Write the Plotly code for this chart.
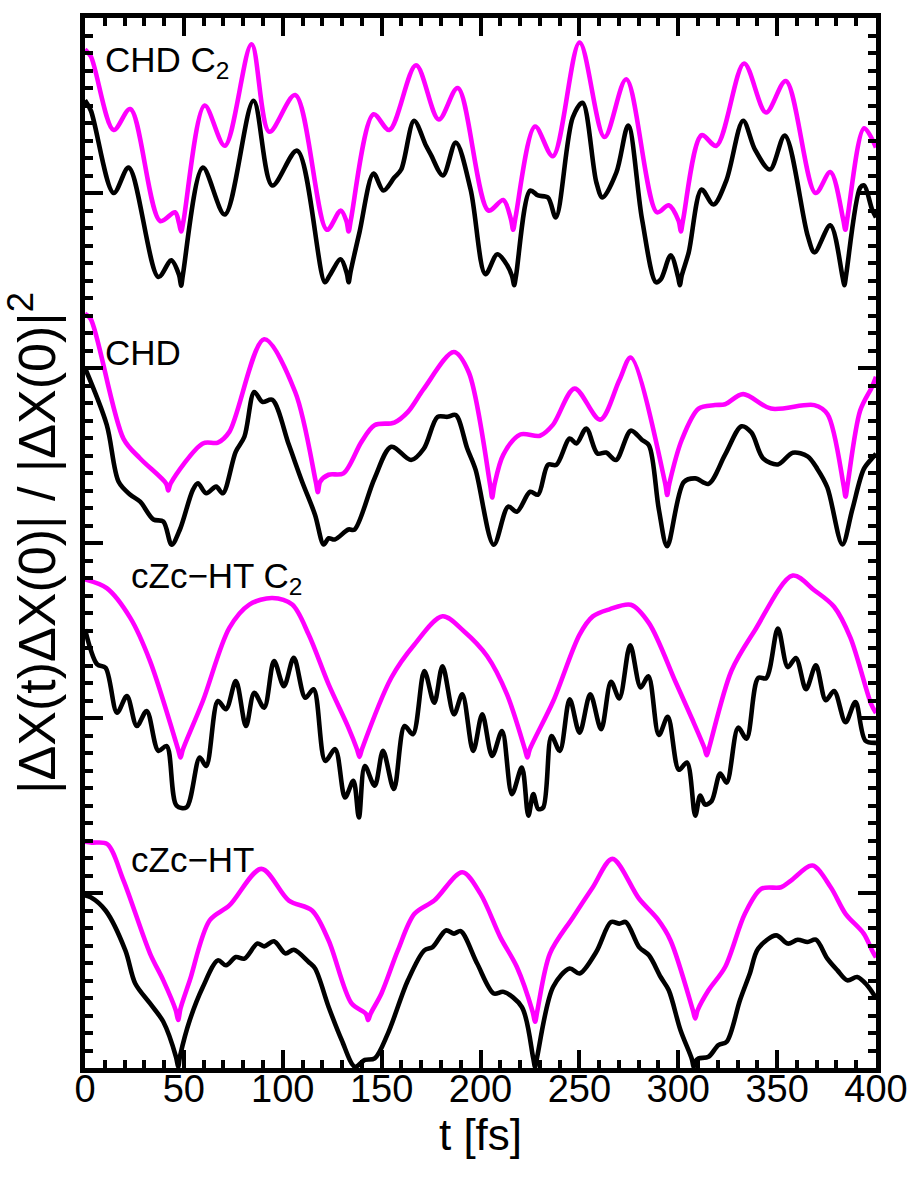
import plotly.graph_objects as go

# ---------------- data ----------------
# Panel 1: CHD C2
chd_c2_mag_t = [0, 3, 14.5, 22.9, 38, 45.5, 47.5, 48.6, 49.8, 60.5, 70.7, 84.2, 93.2, 106.3, 122.3, 129.3,
                132.2, 133.3, 134.5, 145.9, 153.9, 167.4, 178.9, 188.5, 204.0, 211.5, 215.4, 216.5, 217.7,
                227.6, 236.6, 250.1, 262.7, 273.7, 289.2, 295.2, 300.2, 301.3, 302.5, 311.8, 319.3, 333.3,
                344.4, 354.4, 369.4, 376.9, 383.4, 384.5, 385.7, 394.0, 400]
chd_c2_mag_y = [5.82, 5.78, 5.36, 5.48, 4.84, 4.89, 4.83, 4.78, 4.84, 5.50, 5.27, 5.85, 5.35, 5.56, 4.79, 4.90,
                4.84, 4.78, 4.85, 5.45, 5.36, 5.73, 5.42, 5.60, 4.90, 4.96, 4.85, 4.79, 4.86,
                5.38, 5.21, 5.86, 5.32, 5.65, 4.89, 4.93, 4.84, 4.78, 4.85, 5.33, 5.27, 5.74,
                5.46, 5.64, 5.00, 5.12, 4.85, 4.79, 4.87, 5.37, 5.26]
chd_c2_blk_t = [0, 3, 14.5, 22.1, 37.1, 43.6, 47.6, 48.6, 49.6, 59.6, 70.7, 85.2, 94.7, 107.3, 121.3, 123.8,
                129.3, 132.4, 133.3, 134.3, 138.8, 145.9, 150.9, 156.4, 159.9, 166.4, 172.4, 174.9, 181.0,
                187.5, 195.0, 202.5, 208.5, 213.5, 216.1, 217.0, 218.0, 225.1, 229.1, 234.1, 238.1, 246.6,
                251.6, 258.6, 261.7, 268.7, 274.7, 281.7, 288.7, 291.2, 296.2, 299.9, 300.8, 301.8, 305.3,
                311.8, 317.8, 324.3, 332.8, 338.8, 346.4, 353.9, 365.4, 368.9, 376.9, 383.1, 384.0, 385.0,
                392.0, 394.0, 398.0, 400]
chd_c2_blk_y = [5.53, 5.47, 5.00, 5.145, 4.52, 4.615, 4.53, 4.47, 4.54, 5.145, 4.877, 5.527, 5.043, 5.242, 4.49, 4.53,
                4.621, 4.54, 4.49, 4.55, 4.775, 5.111, 5.014, 5.088, 5.134, 5.413, 5.271, 5.219, 5.10,
                5.288, 5.02, 4.536, 4.65, 4.587, 4.52, 4.473, 4.53, 5.014, 4.986, 4.974, 4.86, 5.43,
                5.516, 5.06, 4.974, 5.117, 5.385, 4.849, 4.49, 4.507, 4.644, 4.52, 4.473, 4.53, 4.661,
                5.02, 4.934, 5.071, 5.413, 5.248, 5.134, 5.328, 4.758, 4.661, 4.815, 4.52, 4.473, 4.54,
                5.031, 5.043, 4.906, 4.86]

# Panel 2: CHD
chd_mag_t = [0, 2.9, 19.5, 27.9, 41.0, 42.1, 43.3, 59.6, 67.2, 73.0, 90.6, 106.3, 116.7, 117.8, 118.9, 123.2,
             130.7, 139.8, 146.4, 156.4, 163.3, 171.4, 186.5, 194.0, 204.9, 205.9, 207.0, 211.5, 220.1, 230.1,
             236.6, 247.6, 260.5, 270.2, 276.0, 293.4, 294.4, 295.5, 301.8, 310.3, 318.6, 323.7, 332.8, 346.9,
             368.8, 375.5, 383.6, 384.6, 385.7, 392.0, 398.0, 400]
chd_mag_y = [4.31, 4.28, 3.595, 3.483, 3.34, 3.30, 3.34, 3.569, 3.574, 3.635, 4.164, 3.863, 3.35, 3.29, 3.35, 3.39,
             3.398, 3.578, 3.673, 3.688, 3.749, 3.882, 4.091, 3.977, 3.33, 3.26, 3.33, 3.504, 3.62, 3.613,
             3.675, 3.882, 3.705, 3.93, 4.06, 3.34, 3.275, 3.34, 3.59, 3.768, 3.788, 3.793, 3.851, 3.768,
             3.788, 3.736, 3.33, 3.265, 3.34, 3.757, 3.893, 3.95]
chd_blk_t = [0, 11.0, 17.0, 22.9, 27.9, 34.6, 39.6, 43.8, 48.0, 54.6, 57.1, 61.3, 66.3, 69.7, 76.2, 80.6, 85.6,
             89.7, 94.7, 103.1, 109.8, 116.3, 120.7, 123.2, 126.3, 133.2, 136.3, 146.4, 154.9, 164.9, 171.4,
             178.3, 183.3, 187.5, 193.3, 197.5, 206.7, 214.0, 218.4, 225.1, 229.1, 234.1, 238.4, 245.1, 248.5,
             253.5, 259.1, 263.5, 268.5, 276.0, 281.7, 285.2, 290.2, 294.4, 302.8, 308.6, 315.3, 323.7, 332.0,
             337.0, 342.9, 350.4, 357.9, 365.4, 370.4, 375.4, 383.0, 388.0, 393.8, 398.0, 400]
chd_blk_y = [4.0, 3.675, 3.35, 3.276, 3.236, 3.134, 3.123, 2.99, 3.077, 3.305, 3.341, 3.284, 3.322, 3.284, 3.521,
             3.607, 3.863, 3.806, 3.818, 3.561, 3.35, 3.162, 2.991, 3.027, 3.02, 3.077, 3.077, 3.369, 3.55,
             3.474, 3.54, 3.721, 3.721, 3.731, 3.54, 3.419, 2.99, 3.208, 3.179, 3.293, 3.276, 3.447, 3.447,
             3.597, 3.569, 3.654, 3.512, 3.517, 3.474, 3.642, 3.589, 3.558, 3.191, 2.982, 3.348, 3.369, 3.338,
             3.505, 3.667, 3.631, 3.484, 3.449, 3.516, 3.495, 3.422, 3.317, 2.992, 3.191, 3.422, 3.484, 3.51]

# Panel 3: cZc-HT C2
czc_c2_mag_t = [0, 11.0, 22.9, 32.9, 47.1, 48.3, 49.5, 59.6, 73.0, 83.1, 94.7, 104.8, 113.1, 123.2, 133.2,
                137.6, 138.8, 140.0, 154.9, 166.6, 180.8, 191.6, 203.4, 213.4, 222.5, 223.7, 224.9, 236.8,
                250.1, 256.8, 265.2, 276.0, 285.2, 298.6, 306.9, 313.2, 314.4, 315.6, 326.9, 338.7, 357.9,
                368.8, 378.8, 387.1, 397.5, 400]
czc_c2_mag_y = [2.792, 2.742, 2.572, 2.325, 1.82, 1.774, 1.82, 2.097, 2.515, 2.648, 2.686, 2.648, 2.477, 2.192,
                1.945, 1.82, 1.778, 1.82, 2.23, 2.42, 2.581, 2.496, 2.353, 2.135, 1.82, 1.774, 1.82, 2.097,
                2.477, 2.581, 2.621, 2.647, 2.542, 2.207, 1.997, 1.83, 1.787, 1.83, 2.27, 2.50, 2.814,
                2.73, 2.636, 2.458, 2.081, 2.028]
czc_c2_blk_t = [0, 6.2, 10.4, 16.2, 21.2, 26.2, 31.2, 37.1, 41.3, 46.3, 51.3, 58.0, 61.3, 67.2, 71.3, 76.3,
                81.4, 85.6, 90.6, 95.6, 100.6, 105.6, 111.4, 115.6, 121.5, 126.5, 131.5, 135.7, 138.5, 141.5,
                146.5, 150.7, 156.2, 161.6, 165.8, 171.6, 176.6, 180.8, 186.6, 190.8, 196.3, 200.9, 205.9,
                210.9, 215.9, 220.9, 224.2, 226.7, 229.2, 231.7, 235.9, 240.1, 245.1, 250.1, 255.5, 261.0,
                266.0, 270.2, 275.7, 281.0, 284.9, 290.2, 294.7, 300.3, 304.4, 308.6, 311.1, 313.6, 316.9,
                321.2, 324.5, 330.3, 334.5, 340.4, 344.5, 350.4, 355.4, 359.5, 364.6, 369.6, 374.6, 378.8,
                384.6, 389.6, 394.6, 400]
czc_c2_blk_y = [2.507, 2.306, 2.287, 2.03, 2.125, 1.954, 2.04, 1.812, 1.84, 1.499, 1.489, 1.774, 1.726, 2.097,
                2.05, 2.211, 1.954, 2.144, 2.059, 2.325, 2.182, 2.344, 2.116, 2.164, 1.755, 1.822, 1.546,
                1.641, 1.432, 1.726, 1.613, 1.812, 1.594, 1.954, 1.907, 2.268, 2.087, 2.296, 2.021, 2.135,
                1.812, 2.021, 1.783, 1.926, 1.565, 1.717, 1.442, 1.565, 1.48, 1.489, 1.897, 1.812, 2.107,
                1.916, 2.135, 1.936, 2.207, 2.112, 2.416, 2.175, 2.238, 1.903, 2.007, 1.704, 1.746, 1.442,
                1.557, 1.505, 1.526, 1.683, 1.631, 1.945, 1.882, 2.228, 2.228, 2.511, 2.291, 2.343, 2.165,
                2.301, 2.102, 2.154, 1.976, 2.091, 1.871, 1.858]

# Panel 4: cZc-HT
czc_mag_t = [0, 3.5, 11.2, 19.5, 32.9, 39.6, 45.9, 47.1, 48.3, 53.0, 63.0, 73.0, 89.2, 103.1, 114.8, 123.2,
             134.8, 142.0, 143.2, 144.4, 149.9, 158.2, 166.6, 176.6, 190.8, 200.0, 210.0, 218.4, 226.4, 227.6,
             228.8, 235.1, 246.8, 256.8, 266.7, 280.2, 289.4, 296.1, 307.4, 308.6, 309.8, 315.3, 323.7, 333.7,
             342.0, 352.0, 357.0, 367.9, 377.1, 384.6, 393.8, 398.0, 400]
czc_mag_y = [1.293, 1.288, 1.28, 1.071, 0.654, 0.501, 0.33, 0.274, 0.34, 0.501, 0.843, 0.929, 1.138, 0.957, 0.90,
             0.729, 0.369, 0.31, 0.274, 0.31, 0.426, 0.672, 0.881, 0.957, 1.119, 0.995, 0.748, 0.577, 0.32,
             0.264, 0.33, 0.654, 0.862, 1.033, 1.195, 0.967, 0.853, 0.729, 0.33, 0.283, 0.33, 0.444, 0.577,
             0.881, 1.024, 1.033, 1.071, 1.157, 1.033, 0.881, 0.768, 0.672, 0.632]
czc_blk_t = [0, 2.9, 10.4, 20.4, 25.4, 32.9, 39.6, 46.1, 47.1, 48.1, 53.0, 59.6, 67.2, 71.3, 76.3, 80.6, 87.2,
             90.6, 95.6, 101.4, 105.6, 113.1, 116.4, 123.2, 129.8, 136.5, 141.5, 146.5, 153.2, 163.3, 171.6,
             175.8, 182.5, 186.6, 190.0, 198.3, 206.7, 211.7, 220.9, 226.6, 227.6, 228.6, 236.7, 245.1, 250.1,
             258.5, 266.0, 270.2, 273.5, 280.2, 285.2, 291.1, 295.2, 301.1, 306.9, 307.8, 308.8, 310.3, 315.3,
             320.3, 324.5, 331.2, 336.2, 340.4, 349.5, 355.4, 360.4, 365.4, 369.6, 375.4, 380.5, 385.5, 390.5,
             395.5, 400]
czc_blk_y = [0.986, 0.976, 0.90, 0.672, 0.483, 0.369, 0.264, 0.06, 0.007, 0.07, 0.274, 0.463, 0.615, 0.587,
             0.634, 0.625, 0.711, 0.695, 0.724, 0.654, 0.676, 0.606, 0.568, 0.349, 0.16, 0.007, 0.046, 0.055,
             0.198, 0.501, 0.672, 0.691, 0.786, 0.768, 0.782, 0.597, 0.426, 0.435, 0.349, 0.06, 0.007, 0.06,
             0.463, 0.568, 0.54, 0.663, 0.834, 0.825, 0.834, 0.691, 0.644, 0.52, 0.444, 0.217, 0.05, 0.005,
             0.04, 0.055, 0.064, 0.131, 0.15, 0.387, 0.54, 0.682, 0.758, 0.711, 0.733, 0.72, 0.733, 0.625,
             0.558, 0.501, 0.52, 0.473, 0.399]

labels = ["CHD C<sub>2</sub>", "CHD", "cZc\u2212HT C<sub>2</sub>", "cZc\u2212HT"]
label_t = [9, 9, 22.5, 22.5]
label_y = [5.75, 4.09, 2.80, 1.19]

MAGENTA = "#FF00FF"
FONT = "Liberation Sans, Arial, Helvetica, sans-serif"

fig = go.Figure()
series = [
    (chd_c2_blk_t, chd_c2_blk_y, "black"), (chd_c2_mag_t, chd_c2_mag_y, MAGENTA),
    (chd_blk_t, chd_blk_y, "black"), (chd_mag_t, chd_mag_y, MAGENTA),
    (czc_c2_blk_t, czc_c2_blk_y, "black"), (czc_c2_mag_t, czc_c2_mag_y, MAGENTA),
    (czc_blk_t, czc_blk_y, "black"), (czc_mag_t, czc_mag_y, MAGENTA),
]
for t, y, c in series:
    fig.add_trace(go.Scatter(x=t, y=y, mode="lines",
                             line=dict(color=c, width=4.6, shape="spline", smoothing=0.9),
                             showlegend=False, hoverinfo="skip"))

for txt, tx, ty in zip(labels, label_t, label_y):
    fig.add_annotation(x=tx, y=ty, text=txt, showarrow=False, xanchor="left", yanchor="middle",
                       font=dict(size=35, color="black", family=FONT))

fig.update_layout(
    width=922, height=1182,
    margin=dict(l=85, r=46, t=18, b=114),
    plot_bgcolor="white", paper_bgcolor="white",
    font=dict(family=FONT, color="black"),
    showlegend=False,
)
fig.update_xaxes(
    range=[0, 400], tick0=0, dtick=50, ticks="inside", ticklen=18, tickwidth=4, tickcolor="black",
    mirror="allticks", showline=True, linewidth=4.5, linecolor="black", showgrid=False, zeroline=False,
    tickfont=dict(size=38, family=FONT), ticklabelstandoff=-16,
    minor=dict(ticks="inside", dtick=10, ticklen=8, tickwidth=4, tickcolor="black", showgrid=False),
    title=dict(text="t [fs]", font=dict(size=44, family=FONT), standoff=0),
)
fig.update_yaxes(
    range=[0, 6], tick0=0, dtick=1, ticks="inside", ticklen=18, tickwidth=4, tickcolor="black",
    mirror="allticks", showline=True, linewidth=4.5, linecolor="black", showgrid=False, zeroline=False,
    showticklabels=False,
    minor=dict(ticks="inside", dtick=0.1, ticklen=8, tickwidth=4, tickcolor="black", showgrid=False),
    title=dict(text="|\u0394X(t)\u0394X(0)| / |\u0394X(0)|<sup>2</sup>", font=dict(size=52, family=FONT),
               standoff=12),
)

fig.write_html("out.html")
